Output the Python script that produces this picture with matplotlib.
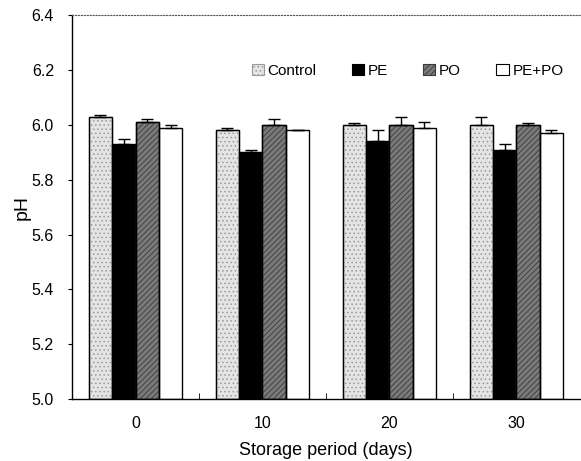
import matplotlib
matplotlib.use("Agg")
import matplotlib.pyplot as plt
import numpy as np

days = ["0", "10", "20", "30"]
series = ["Control", "PE", "PO", "PE+PO"]
control = [6.03, 5.98, 6.00, 6.00]
pe = [5.93, 5.90, 5.94, 5.91]
po = [6.01, 6.00, 6.00, 6.00]
pepo = [5.99, 5.98, 5.99, 5.97]
control_err = [0.005, 0.01, 0.008, 0.03]
pe_err = [0.02, 0.01, 0.04, 0.02]
po_err = [0.01, 0.02, 0.03, 0.008]
pepo_err = [0.01, 0.0, 0.02, 0.01]

plt.rcParams['font.family'] = ['Liberation Sans', 'DejaVu Sans']
plt.rcParams['hatch.linewidth'] = 0.6

fig = plt.figure(figsize=(5.81, 4.61), dpi=100)
ax = fig.add_axes([0.124, 0.1345, 0.874, 0.8325])

vals = [control, pe, po, pepo]
errs = [control_err, pe_err, po_err, pepo_err]
faces = ['#e4e4e4', 'black', '#7a7a7a', 'white']
hatches = ['....', None, '//////', None]
hatch_cols = ['#9a9a9a', 'black', '#3a3a3a', 'black']
x = np.arange(len(days))
w = 0.184
for i, (v, e) in enumerate(zip(vals, errs)):
    pos = x + (i - 1.5) * w
    bars = ax.bar(pos, np.array(v) - 5.0, bottom=5.0, width=w, color=faces[i],
                  edgecolor='black', linewidth=1.0, label=series[i], hatch=hatches[i], zorder=2)
    if hatches[i]:
        for b in bars:
            b.set_edgecolor(hatch_cols[i])
        ax.bar(pos, np.array(v) - 5.0, bottom=5.0, width=w, fill=False,
               edgecolor='black', linewidth=1.0, zorder=3)
    ax.errorbar(pos, v, yerr=[np.zeros(len(e)), e], fmt='none', ecolor='black',
                elinewidth=1.0, capsize=4, capthick=1.0, zorder=4)

ax.set_xlim(-0.5, 3.5)
ax.set_ylim(5.0, 6.4)
ax.set_yticks(np.arange(5.0, 6.41, 0.2))
ax.set_yticklabels([f"{t:.1f}" for t in np.arange(5.0, 6.41, 0.2)], fontsize=11.5)
ax.set_xticks(x)
ax.set_xticklabels(days, fontsize=11.5)
ax.tick_params(axis='x', length=0, pad=12)
ax.set_xticks([0.5, 1.5, 2.5], minor=True)
ax.tick_params(axis='x', which='minor', direction='in', length=4)
ax.tick_params(axis='y', direction='out', length=3, pad=10)
ax.set_ylabel("pH", fontsize=14, labelpad=1)
ax.set_xlabel("Storage period (days)", fontsize=13, labelpad=8)

ax.spines['top'].set_linestyle(':')
ax.spines['top'].set_color('#555555')
ax.spines['right'].set_visible(False)
ax.spines['left'].set_linewidth(1.0)
ax.spines['bottom'].set_linewidth(1.0)

from matplotlib.patches import Patch
handles = [Patch(facecolor=faces[i], edgecolor=hatch_cols[i] if hatches[i] else 'black',
                 hatch=hatches[i], linewidth=0.8) for i in range(4)]
ax.legend(handles, series, loc='upper right', bbox_to_anchor=(0.995, 0.91), ncol=4,
          frameon=False, fontsize=11, handlelength=0.8, handleheight=0.8,
          handletextpad=0.25, columnspacing=2.3)

fig.savefig("out.png", dpi=100)
